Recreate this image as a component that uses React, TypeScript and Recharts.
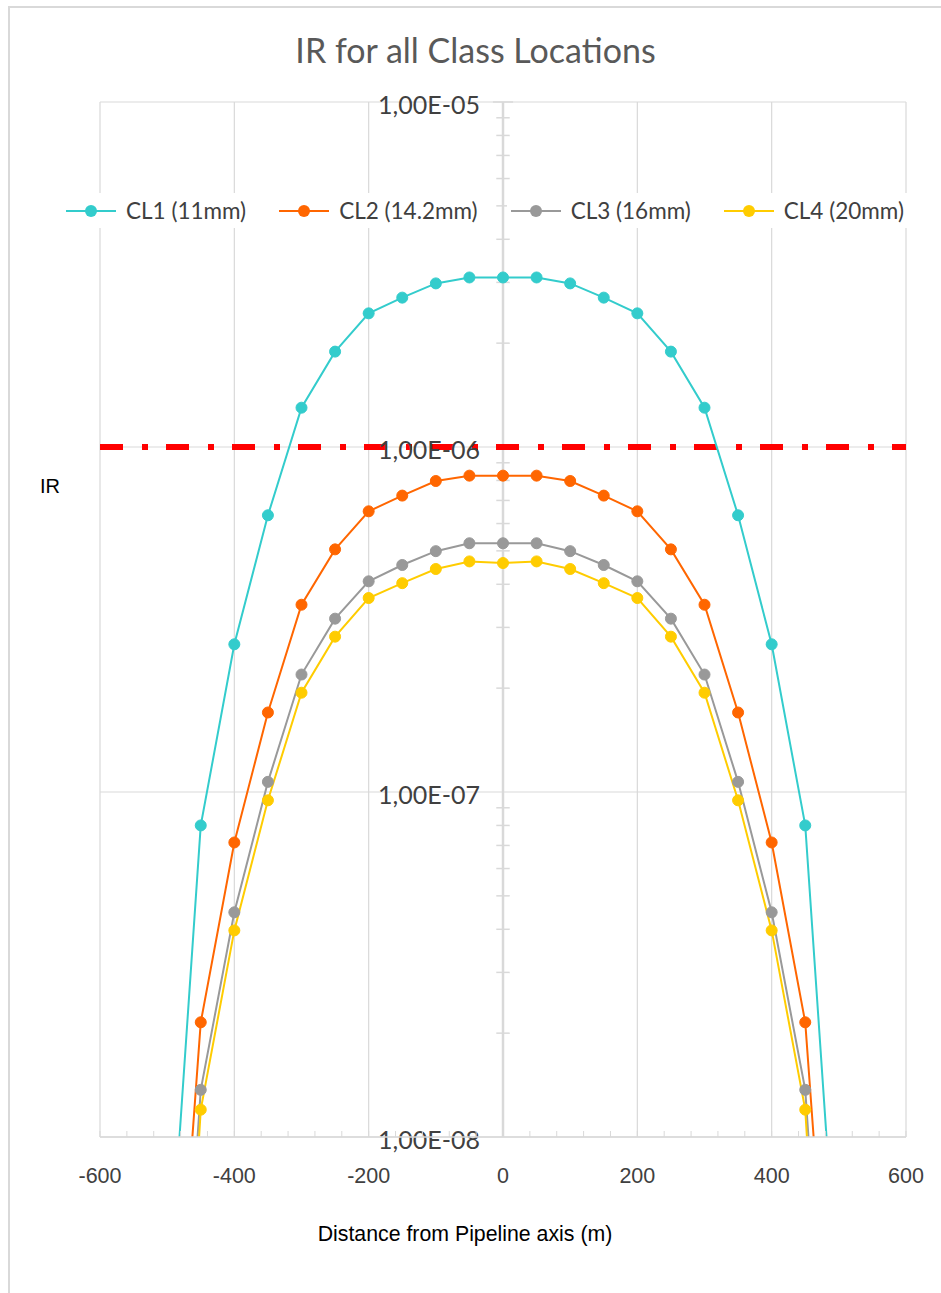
import React from 'react';
import { LineChart, Line, XAxis, YAxis, ReferenceLine, Legend } from 'recharts';

// distance from pipeline axis (m)
const distances = [-500, -450, -400, -350, -300, -250, -200, -150, -100, -50, 0, 50, 100, 150, 200, 250, 300, 350, 400, 450, 500];

// individual risk per class location
const cl1 = [3e-9, 8.0e-8, 2.68e-7, 6.34e-7, 1.3e-6, 1.89e-6, 2.44e-6, 2.71e-6, 2.98e-6, 3.1e-6, 3.1e-6, 3.1e-6, 2.98e-6, 2.71e-6, 2.44e-6, 1.89e-6, 1.3e-6, 6.34e-7, 2.68e-7, 8.0e-8, 3e-9];
const cl2 = [1e-9, 2.15e-8, 7.14e-8, 1.7e-7, 3.49e-7, 5.05e-7, 6.51e-7, 7.23e-7, 7.97e-7, 8.26e-7, 8.26e-7, 8.26e-7, 7.97e-7, 7.23e-7, 6.51e-7, 5.05e-7, 3.49e-7, 1.7e-7, 7.14e-8, 2.15e-8, 1e-9];
const cl3 = [5e-10, 1.37e-8, 4.48e-8, 1.07e-7, 2.19e-7, 3.18e-7, 4.08e-7, 4.55e-7, 4.99e-7, 5.26e-7, 5.26e-7, 5.26e-7, 4.99e-7, 4.55e-7, 4.08e-7, 3.18e-7, 2.19e-7, 1.07e-7, 4.48e-8, 1.37e-8, 5e-10];
const cl4 = [3e-10, 1.2e-8, 3.97e-8, 9.46e-8, 1.94e-7, 2.82e-7, 3.65e-7, 4.03e-7, 4.43e-7, 4.66e-7, 4.61e-7, 4.66e-7, 4.43e-7, 4.03e-7, 3.65e-7, 2.82e-7, 1.94e-7, 9.46e-8, 3.97e-8, 1.2e-8, 3e-10];

const seriesKeys = ['cl1', 'cl2', 'cl3', 'cl4'];
const seriesNames = ['CL1 (11mm)', 'CL2 (14.2mm)', 'CL3 (16mm)', 'CL4 (20mm)'];
const seriesColors = ['#33CCCC', '#FF6600', '#999999', '#FFCC00'];

const irLimit = 1e-6;

const xMajorTicks = [-600, -400, -200, 0, 200, 400, 600];
const xTicks = Array.from({ length: 31 }, (_, i) => -600 + i * 40);
const yDecades = [1e-8, 1e-7, 1e-6, 1e-5];
const yDecadeLabels = ['1,00E-08', '1,00E-07', '1,00E-06', '1,00E-05'];
const yMinorTicks = [1e-8, 1e-7, 1e-6].flatMap((d) => [2, 3, 4, 5, 6, 7, 8, 9].map((m) => m * d));

const data = distances.map((d, i) => ({ d, cl1: cl1[i], cl2: cl2[i], cl3: cl3[i], cl4: cl4[i] }));

const GRID = '#d9d9d9';
const LATO = 'Lato, "Open Sans", sans-serif';
const ARIAL = '"Liberation Sans", Arial, sans-serif';

const DecadeLabel = (props: any) => {
  const vb = props.viewBox || {};
  const cx = vb.x + vb.width / 2;
  return (
    <text x={cx - 23} y={vb.y + 2} textAnchor="end" dominantBaseline="central" fill="#404040" fontSize={25} fontFamily={LATO}>
      {props.text}
    </text>
  );
};

const LegendRow = () => (
  <div style={{ display: 'flex', alignItems: 'center' }}>
    {seriesNames.map((name, i) => (
      <span key={name} style={{ display: 'flex', alignItems: 'center', background: '#fff', padding: '4px 4px', marginRight: i < 3 ? 25 : 0 }}>
        <svg width={50} height={14}>
          <line x1={0} y1={7} x2={50} y2={7} stroke={seriesColors[i]} strokeWidth={2} />
          <circle cx={25} cy={7} r={6} fill={seriesColors[i]} />
        </svg>
        <span style={{ marginLeft: 10, fontFamily: LATO, fontSize: 22.5, color: '#404040', whiteSpace: 'nowrap' }}>{name}</span>
      </span>
    ))}
  </div>
);

export default function App() {
  return (
    <div style={{ position: 'relative', width: 941, height: 1293, overflow: 'hidden', background: '#fff' }}>
      <style>{'body{margin:0;overflow:hidden}'}</style>
      <div style={{ position: 'absolute', left: 8, top: 6, width: 1000, height: 1400, border: `2px solid ${GRID}` }} />
      <div style={{ position: 'absolute', left: 0, top: 0 }}>
        <LineChart width={941} height={1293} data={data} margin={{ top: 102, right: 35, bottom: 96, left: 100 }}>
          <XAxis
            dataKey="d"
            type="number"
            domain={[-600, 600]}
            ticks={xTicks}
            interval={0}
            tickFormatter={(v: number) => (v % 200 === 0 ? String(v) : '')}
            tickSize={-6}
            tickMargin={37}
            height={60}
            axisLine={{ stroke: GRID, strokeWidth: 1.5 }}
            tickLine={{ stroke: GRID }}
            tick={{ fill: '#404040', fontSize: 21.5, fontFamily: ARIAL }}
          />
          <YAxis hide type="number" scale="log" domain={[1e-8, 1e-5]} allowDataOverflow />
          {xMajorTicks.map((x) => (
            <ReferenceLine key={'vx' + x} x={x} stroke={GRID} strokeWidth={x === 0 ? 2.5 : 1.2} />
          ))}
          {yMinorTicks.map((v) => (
            <ReferenceLine key={'mt' + v} segment={[{ x: -10, y: v }, { x: 10, y: v }]} stroke={GRID} strokeWidth={1.5} />
          ))}
          <ReferenceLine segment={[{ x: -15, y: 1e-5 }, { x: 15, y: 1e-5 }]} stroke={GRID} strokeWidth={1.5} />
          {yDecades.map((v) => (
            <ReferenceLine key={'hy' + v} y={v} stroke={GRID} strokeWidth={1.2} />
          ))}
          <ReferenceLine y={irLimit} stroke="#FF0000" strokeWidth={6} strokeDasharray="23 19 6 18" />
          {yDecades.map((v, i) => (
            <ReferenceLine key={'lb' + v} y={v} stroke="none" label={<DecadeLabel text={yDecadeLabels[i]} />} />
          ))}
          {seriesKeys.map((k, i) => (
            <Line
              key={k}
              dataKey={k}
              name={seriesNames[i]}
              type="linear"
              stroke={seriesColors[i]}
              strokeWidth={2}
              dot={{ r: 5.5, fill: seriesColors[i], stroke: seriesColors[i], strokeWidth: 1 }}
              activeDot={false}
              isAnimationActive={false}
            />
          ))}
          <Legend layout="vertical" align="center" verticalAlign="middle" wrapperStyle={{ top: 193, left: 62, width: 'auto' }} content={() => <LegendRow />} />
        </LineChart>
      </div>
      <div style={{ position: 'absolute', left: 0, width: 951, top: 28, textAlign: 'center', fontFamily: LATO, fontSize: 34, color: '#595959', lineHeight: '44px' }}>
        IR for all Class Locations
      </div>
      <div style={{ position: 'absolute', left: 40, top: 474, fontFamily: ARIAL, fontSize: 20, color: '#000', lineHeight: '24px' }}>IR</div>
      <div style={{ position: 'absolute', left: 0, width: 930, top: 1222, textAlign: 'center', fontFamily: ARIAL, fontSize: 21.3, color: '#000', lineHeight: '24px' }}>
        Distance from Pipeline axis (m)
      </div>
    </div>
  );
}
